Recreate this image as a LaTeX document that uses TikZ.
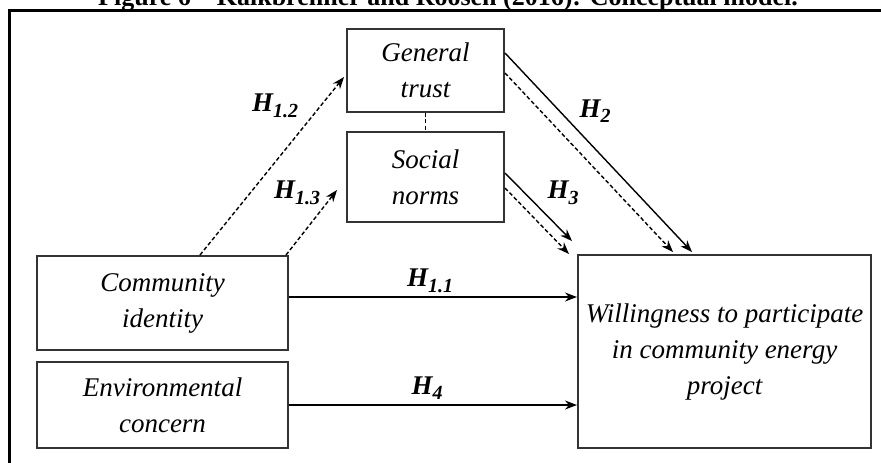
\documentclass[tikz,border=0pt]{standalone}
\usepackage{fontspec}
\setmainfont{Liberation Serif}
\usetikzlibrary{positioning,arrows.meta}
\newcommand{\hsub}[2]{#1\raisebox{-0.45ex}{\fontsize{10}{10}\selectfont #2}}

\begin{document}
\begin{tikzpicture}[x=0.5pt,y=-0.5pt,
    box/.style={draw=black!80,line width=1pt,align=center,inner sep=0pt,font=\fontsize{13.5}{18}\selectfont\itshape},
    hyp/.style={-{Stealth[length=6pt,width=4.5pt]},line width=0.7pt},
    hypdash/.style={hyp,dash pattern=on 2pt off 1.2pt},
    hlabel/.style={font=\fontsize{13.5}{16}\selectfont\bfseries\itshape,inner sep=0pt}]
\useasboundingbox (0,0) rectangle (881,462);
\clip (0,0) rectangle (881,462);

% frame and caption
\draw[line width=1.5pt] (9,480) -- (9,10) -- (900,10);
\node[anchor=base,inner sep=0pt,font=\fontsize{13}{15}\selectfont\bfseries] (caption) at (448,5) {Figure 6 – Kalkbrenner and Roosen (2016): Conceptual model.};

% constructs
\node[box,minimum width=78.5pt,minimum height=41.5pt] (trust) at (425.5,70.5) {General\\trust};
\node[box,minimum width=78.5pt,minimum height=45pt] (norms) at (425.5,177) {Social\\norms};
\node[box,minimum width=125.5pt,minimum height=47pt] (commid) at (162.5,303) {Community\\identity};
\node[box,minimum width=125.5pt,minimum height=43pt] (envcon) at (162.5,405) {Environmental\\concern};
\node[box,minimum width=146.5pt,minimum height=96.5pt] (willing) at (724.5,351.5) {Willingness to participate\\in community energy\\project};

% paths
\draw[line width=0.7pt,dash pattern=on 2pt off 1.2pt] (trust) -- (norms);
\draw[hyp] ([yshift=3pt]commid.east) -- ([yshift=3pt]commid.east -| willing.west);
\draw[hyp] (envcon.east) -- (envcon.east -| willing.west);
\draw[hypdash] ([xshift=18.75pt]commid.north) -- ([xshift=-1pt,yshift=-3.25pt]trust.west);
\draw[hypdash] ([xshift=-1.5pt]commid.north east) -- ([xshift=-4.5pt,yshift=-6.5pt]norms.west);
\draw[hyp] ([yshift=8.75pt]trust.east) -- ([xshift=-16.25pt,yshift=1pt]willing.north);
\draw[hypdash] ([yshift=-1.25pt]trust.east) -- ([xshift=-25.75pt,yshift=1pt]willing.north);
\draw[hyp] ([yshift=2pt]norms.east) -- ([xshift=-2.5pt,yshift=6.5pt]willing.north west);
\draw[hypdash] ([yshift=-5.5pt]norms.east) -- ([xshift=-4pt]willing.north west);

% hypothesis labels
\node[hlabel] (h12) at (275,106) {\hsub{H}{1.2}};
\node[hlabel] (h13) at (297,193) {\hsub{H}{1.3}};
\node[hlabel] (h2) at (595,111) {\hsub{H}{2}};
\node[hlabel] (h3) at (563,193) {\hsub{H}{3}};
\node[hlabel] (h11) at (430,281) {\hsub{H}{1.1}};
\node[hlabel] (h4) at (427,388) {\hsub{H}{4}};
\end{tikzpicture}
\end{document}
